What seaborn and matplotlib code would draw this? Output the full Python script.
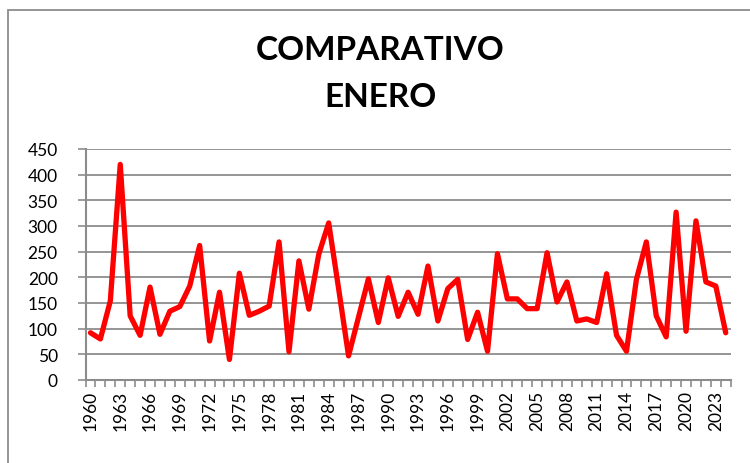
import numpy as np
import pandas as pd
import matplotlib
matplotlib.use("Agg")
import matplotlib.pyplot as plt
import seaborn as sns
from matplotlib.patches import Rectangle

years = list(range(1960, 2025))
values = [92, 80, 154, 420, 125, 87, 181, 89, 134, 143,
          183, 262, 76, 171, 40, 208, 126, 134, 144, 269,
          55, 232, 138, 245, 306, 178, 47, 122, 197, 112,
          199, 124, 171, 128, 222, 115, 178, 196, 79, 132,
          56, 246, 158, 158, 139, 139, 248, 152, 191, 115,
          119, 112, 207, 87, 56, 196, 269, 125, 84, 327,
          95, 310, 191, 183, 92]
tick_years = list(range(1960, 2024, 3))
y_ticks = list(range(0, 451, 50))
title = "COMPARATIVO\nENERO"

df = pd.DataFrame({"year": years, "valor": values})

sns.set_theme(style="white")
plt.rcParams['font.family'] = ['Lato', 'DejaVu Sans']

W, H = 750, 464
fig = plt.figure(figsize=(W / 100, H / 100), dpi=100)
ax = fig.add_axes([85.5 / W, 1 - 381 / H, (730.7 - 85.5) / W, (381 - 150) / H])

grid_c = "#8c8c8c"
ax.set_axisbelow(True)
for v in y_ticks:
    ax.axhline(v, color=grid_c, lw=1.3, zorder=0)

sns.lineplot(data=df, x="year", y="valor", ax=ax, color="#ff0000",
             linewidth=3.8, zorder=3, legend=False)
ax.lines[-1].set_solid_joinstyle("round")
ax.lines[-1].set_solid_capstyle("round")

ax.set_xlim(years[0] - 0.5, years[-1] + 0.5)
ax.set_ylim(0, 450)
ax.set_yticks(y_ticks)
ax.set_yticklabels([str(v) for v in y_ticks], fontsize=12.5, color="#000000")
ax.set_xticks(tick_years)
ax.set_xticklabels([str(y) for y in tick_years], rotation=90, fontsize=12.5,
                   color="#000000")
ax.set_xticks([y - 0.5 for y in years] + [years[-1] + 0.5], minor=True)
ax.tick_params(axis="x", which="major", length=0, pad=7)
ax.tick_params(axis="x", which="minor", length=5, width=1.2, color=grid_c,
               direction="out", bottom=True)
ax.tick_params(axis="y", which="major", length=6, width=1.2, color=grid_c,
               direction="out", left=True, pad=14)
ax.set_xlabel("")
ax.set_ylabel("")

for s in ["top", "right"]:
    ax.spines[s].set_visible(False)
for s in ["left", "bottom"]:
    ax.spines[s].set_color(grid_c)
    ax.spines[s].set_linewidth(1.5)

fig.text(380 / W, 1 - 74 / H, title, ha="center", va="center",
         fontsize=24, fontweight="bold", linespacing=1.72, color="#000000")

fig.patches.append(Rectangle((8 / W, -0.1), 1.2, 1 - 10.7 / H + 0.1,
                             transform=fig.transFigure, fill=False,
                             edgecolor=grid_c, linewidth=1.3))

fig.savefig("out.png", dpi=100, facecolor="white")
